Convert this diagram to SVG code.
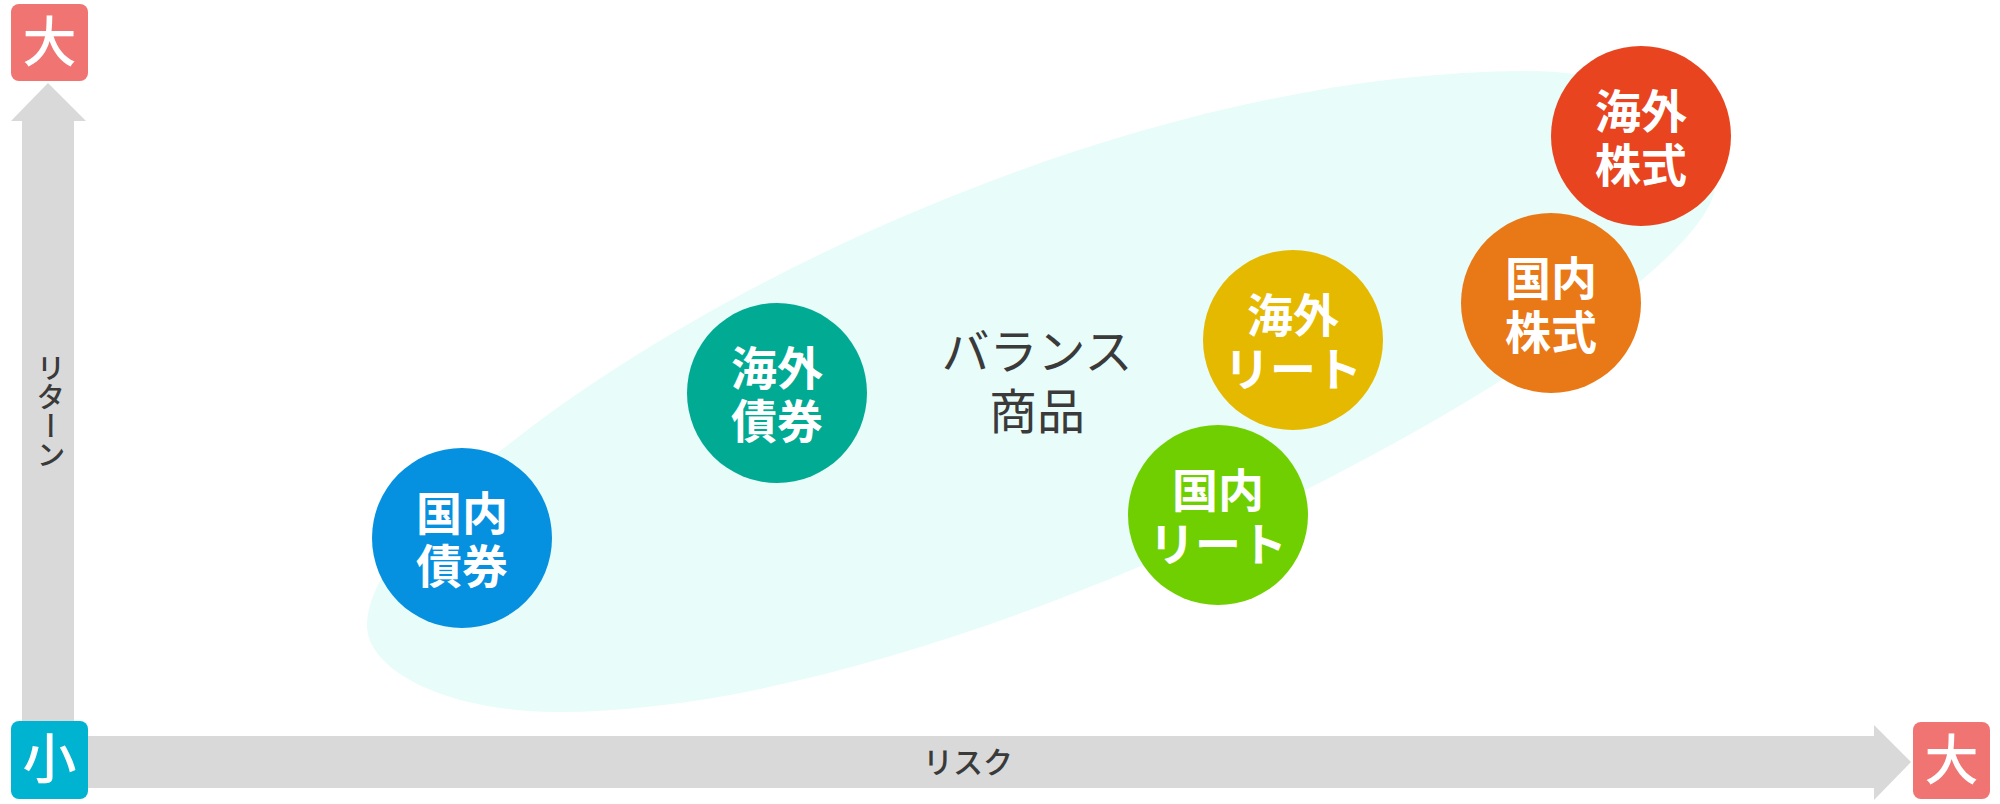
<svg xmlns="http://www.w3.org/2000/svg" width="2000" height="804" viewBox="0 0 2000 804">
<defs>
<style>
.ax{fill:#d9d9d9}
.lbl{font-family:"Liberation Sans","Noto Sans CJK JP",sans-serif;fill:#3a3a3a;text-anchor:middle;dominant-baseline:central}
.box{font-family:"Liberation Sans","Noto Sans CJK JP",sans-serif;fill:#ffffff;font-size:54px;font-weight:500;text-anchor:middle;dominant-baseline:central}
.ct{font-family:"Liberation Sans","Noto Sans CJK JP",sans-serif;fill:#ffffff;font-size:46px;font-weight:700;text-anchor:middle;dominant-baseline:central}
</style>
</defs>
<rect width="2000" height="804" fill="#ffffff"/>
<g id="balance-area">
<path d="M367,625 C367,470 1000,71 1530,71 C1632,71 1715,122 1715,185 C1715,300 1000,712 557,712 C452,712 367,673 367,625 Z" fill="#e8fcf9"/>
<text class="lbl" x="1037" y="352" font-size="48">バランス</text>
<text class="lbl" x="1037" y="412" font-size="48">商品</text>
</g>
<g id="connectors">
<rect class="ax" x="22" y="119" width="52" height="619"/>
<polygon class="ax" points="11,121 48,83 86,121"/>
<rect class="ax" x="74" y="736" width="1802" height="52"/>
<polygon class="ax" points="1874,725 1911,762 1874,800"/>
<text class="lbl" x="968" y="762" font-size="30" font-weight="500">リスク</text>
<text class="lbl" x="48" y="411" font-size="29" font-weight="500" style="writing-mode:vertical-rl">リターン</text>
</g>
<g id="return-high">
<rect x="11" y="4" width="77" height="77" rx="8" fill="#ef7472"/>
<text class="box" x="49.5" y="42.5">大</text>
</g>
<g id="origin-low">
<rect x="11" y="721" width="77" height="78" rx="8" fill="#00b4d1"/>
<text class="box" x="49.5" y="760">小</text>
</g>
<g id="risk-high">
<rect x="1913" y="722" width="77" height="77" rx="8" fill="#ef7472"/>
<text class="box" x="1951.5" y="760.5">大</text>
</g>
<g id="domestic-bond">
<circle cx="462" cy="538" r="90" fill="#0590e0"/>
<text class="ct" x="462" y="514">国内</text>
<text class="ct" x="462" y="567">債券</text>
</g>
<g id="foreign-bond">
<circle cx="777" cy="393" r="90" fill="#00aa93"/>
<text class="ct" x="777" y="369">海外</text>
<text class="ct" x="777" y="422">債券</text>
</g>
<g id="domestic-reit">
<circle cx="1218" cy="515" r="90" fill="#70cf00"/>
<text class="ct" x="1218" y="491">国内</text>
<text class="ct" x="1218" y="545">リート</text>
</g>
<g id="foreign-reit">
<circle cx="1293" cy="340" r="90" fill="#e5b900"/>
<text class="ct" x="1293" y="316">海外</text>
<text class="ct" x="1293" y="370">リート</text>
</g>
<g id="domestic-stock">
<circle cx="1551" cy="303" r="90" fill="#e97817"/>
<text class="ct" x="1551" y="279">国内</text>
<text class="ct" x="1551" y="333">株式</text>
</g>
<g id="foreign-stock">
<circle cx="1641" cy="136" r="90" fill="#e8441f"/>
<text class="ct" x="1641" y="112">海外</text>
<text class="ct" x="1641" y="166">株式</text>
</g>
</svg>
